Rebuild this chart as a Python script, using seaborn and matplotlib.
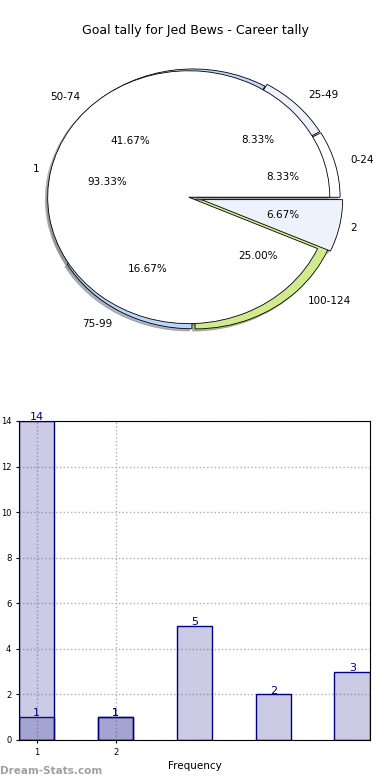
import matplotlib
matplotlib.use('Agg')
import matplotlib.pyplot as plt
import seaborn as sns
import pandas as pd

# goals per game (inner pie) and goal-range bins (outer pie)
tally_labels = ['1', '2']
tally_counts = [14, 1]
range_labels = ['0-24', '25-49', '50-74', '75-99', '100-124']
range_counts = [1, 1, 5, 2, 3]

sns.set_style('white')
plt.rcParams['font.family'] = ['DejaVu Sans']
plt.rcParams['text.color'] = 'black'
plt.rcParams['axes.labelcolor'] = 'black'
plt.rcParams['xtick.color'] = 'black'
plt.rcParams['ytick.color'] = 'black'

fig = plt.figure(figsize=(3.9, 7.8), dpi=100)
fig.text(0.5, 0.961, 'Goal tally for Jed Bews - Career tally', ha='center', va='center', fontsize=9)

# ---- pie section (two pies drawn on top of each other)
pax = fig.add_axes([0.0077, 0.5278, 0.9744, 0.4367])
range_colors = ['#ffffff', '#edf2fd', '#bfd7fb', '#bcd6fb', '#d2ea8e']
shade = {'ox': -0.012, 'oy': -0.012, 'shade': 0.5}
pax.pie(range_counts, labels=range_labels, colors=range_colors, autopct='%.2f%%',
        startangle=0, radius=0.985, explode=[0.022, 0.02, 0.0, 0.015, 0.02],
        labeldistance=1.11, pctdistance=0.62, shadow=shade,
        wedgeprops=dict(edgecolor='black', linewidth=0.6),
        textprops=dict(fontsize=7.5))
pax.pie(tally_counts, labels=tally_labels, colors=['#ffffff', '#edf2fd'], autopct='%.2f%%',
        startangle=0, radius=0.965, explode=[0.03, 0.06],
        labeldistance=1.08, pctdistance=0.59, shadow=shade,
        wedgeprops=dict(edgecolor='black', linewidth=0.6),
        textprops=dict(fontsize=7.5))
pax.set_aspect('auto')
pax.set_xlim(-1.3, 1.3)
pax.set_ylim(-1.3, 1.3)
pax.axis('off')

# ---- bar section
bax = fig.add_axes([0.0487, 0.0513, 0.9, 0.409])
rows = []
for i, v in enumerate(range_counts):
    rows.append({'slot': i, 'value': v, 'series': 'range'})
for i, v in enumerate(tally_counts):
    rows.append({'slot': i, 'value': v, 'series': 'tally'})
df = pd.DataFrame(rows)

sns.barplot(data=df, x='slot', y='value', hue='series', dodge=False, width=0.45,
            palette=['#333399', '#333399'], legend=False, ax=bax, zorder=2)
for p in bax.patches:
    p.set_facecolor((0.2, 0.2, 0.6, 0.25))
    p.set_edgecolor('#000080')
    p.set_linewidth(1.0)

for i, v in enumerate(range_counts):
    bax.text(i, v - 0.05, str(v), ha='center', va='bottom', color='#000080', fontsize=8)
for i, v in enumerate(tally_counts):
    bax.text(i, v - 0.05, str(v), ha='center', va='bottom', color='#000080', fontsize=8)

bax.set_xlim(-0.225, 4.225)
bax.set_ylim(0, 14)
bax.set_yticks(range(0, 15, 2))
bax.set_xticks([0, 1])
bax.set_xticklabels(tally_labels)
bax.tick_params(axis='both', labelsize=6, length=2, direction='out', left=True, bottom=True)
bax.grid(True, linestyle=':', color='#b0b0b0', linewidth=1.0, zorder=0)
bax.set_axisbelow(True)
for s in bax.spines.values():
    s.set_visible(True)
    s.set_color('black')
    s.set_linewidth(0.8)
bax.set_xlabel('Frequency', fontsize=7.5, labelpad=3)
bax.set_ylabel('Goal Tally', fontsize=6.5, labelpad=1)

fig.text(0.0, 0.012, 'Dream-Stats.com', ha='left', va='center', fontsize=7.5,
         color='#a0a0a0', fontweight='bold')

fig.savefig('out.png', dpi=100)
